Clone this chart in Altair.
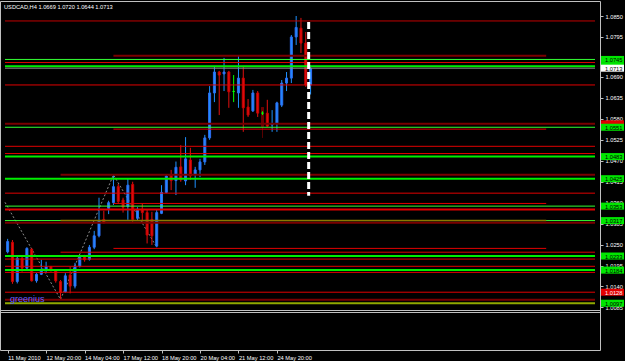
import altair as alt
import pandas as pd
import numpy as np

# ---------------- data ----------------
symbol = "USDCAD,H4"

# bar index (H4 bars, left to right)
bar_idx = list(range(64))
opens = [1.0231, 1.0256, 1.0153, 1.0214, 1.0188, 1.0238, 1.0155, 1.0172, 1.0183, 1.0192,
         1.0181, 1.0153, 1.0126, 1.0170, 1.0141, 1.0194, 1.0218, 1.0211, 1.0243, 1.0273,
         1.0316, 1.0345, 1.0360, 1.0402, 1.0367, 1.0350, 1.0408, 1.0319, 1.0343, 1.0334,
         1.0316, 1.0246, 1.0332, 1.0387, 1.0433, 1.0418, 1.0454, 1.0417, 1.0472, 1.0435,
         1.0446, 1.0467, 1.0530, 1.0648, 1.0703, 1.0698, 1.0703, 1.0652, 1.0648, 1.0687,
         1.0611, 1.0601, 1.0648, 1.0595, 1.0595, 1.0564, 1.0569, 1.0616, 1.0674, 1.0687,
         1.0795, 1.0818, 1.0779, 1.0669]
highs = [1.0265, 1.0262, 1.0218, 1.0218, 1.0243, 1.0240, 1.0175, 1.0210, 1.0205, 1.0194,
         1.0185, 1.0157, 1.0175, 1.0192, 1.0202, 1.0218, 1.0223, 1.0249, 1.0286, 1.0373,
         1.0339, 1.0365, 1.0433, 1.0409, 1.0373, 1.0424, 1.0415, 1.0348, 1.0358, 1.0341,
         1.0336, 1.0341, 1.0406, 1.0433, 1.0446, 1.0468, 1.0511, 1.0532, 1.0504, 1.0454,
         1.0475, 1.0538, 1.0666, 1.0716, 1.0706, 1.0740, 1.0706, 1.0695, 1.0745, 1.0719,
         1.0632, 1.0656, 1.0653, 1.0600, 1.0630, 1.0603, 1.0625, 1.0682, 1.0703, 1.0800,
         1.0850, 1.0845, 1.0808, 1.0720]
lows = [1.0227, 1.0147, 1.0148, 1.0179, 1.0183, 1.0153, 1.0150, 1.0170, 1.0175, 1.0179,
        1.0150, 1.0106, 1.0124, 1.0122, 1.0135, 1.0190, 1.0205, 1.0208, 1.0238, 1.0269,
        1.0306, 1.0330, 1.0354, 1.0357, 1.0334, 1.0315, 1.0310, 1.0312, 1.0310, 1.0253,
        1.0249, 1.0243, 1.0330, 1.0385, 1.0393, 1.0380, 1.0415, 1.0406, 1.0420, 1.0399,
        1.0427, 1.0459, 1.0525, 1.0624, 1.0590, 1.0653, 1.0609, 1.0624, 1.0609, 1.0546,
        1.0585, 1.0598, 1.0585, 1.0590, 1.0559, 1.0546, 1.0546, 1.0611, 1.0653, 1.0674,
        1.0774, 1.0753, 1.0664, 1.0644]
closes = [1.0258, 1.0153, 1.0214, 1.0188, 1.0240, 1.0155, 1.0172, 1.0183, 1.0192, 1.0183,
          1.0155, 1.0124, 1.0168, 1.0141, 1.0194, 1.0216, 1.0210, 1.0243, 1.0273, 1.0313,
          1.0307, 1.0360, 1.0402, 1.0363, 1.0348, 1.0406, 1.0316, 1.0343, 1.0334, 1.0275,
          1.0273, 1.0334, 1.0387, 1.0430, 1.0418, 1.0453, 1.0420, 1.0475, 1.0430, 1.0446,
          1.0467, 1.0530, 1.0648, 1.0703, 1.0695, 1.0703, 1.0651, 1.0652, 1.0687, 1.0609,
          1.0590, 1.0648, 1.0595, 1.0595, 1.0561, 1.0567, 1.0622, 1.0674, 1.0687, 1.0795,
          1.0820, 1.0779, 1.0669, 1.0713]

# dim "shadow" candle
ghost_idx = [53]
ghost_open = [1.0611]
ghost_high = [1.0611]
ghost_low = [1.0530]
ghost_close = [1.0559]

# time-axis labels (bar index -> text)
time_tick_idx = [0, 8, 16, 24, 32, 40, 48, 56]
time_tick_lab = ["11 May 2010", "12 May 20:00", "14 May 04:00", "17 May 12:00",
                 "18 May 20:00", "20 May 04:00", "21 May 12:00", "24 May 20:00"]

# price-axis labels
price_ticks = [1.0850, 1.0795, 1.0690, 1.0635, 1.0580, 1.0525, 1.0470, 1.0415,
               1.0360, 1.0305, 1.0250, 1.0195, 1.0140, 1.0085]

# horizontal lines: price, colour, width, first bar, last bar (None = to edge)
hl_price = [1.0837, 1.0746, 1.0736, 1.0728, 1.0718, 1.0669, 1.0567, 1.0558, 1.0553,
            1.0508, 1.0489, 1.0481, 1.0433, 1.0423, 1.0385, 1.0358, 1.0351, 1.0342,
            1.0313, 1.0313, 1.0307, 1.0240, 1.0230, 1.0220, 1.0212, 1.0193, 1.0183,
            1.0177, 1.0125, 1.0105, 1.0096]
hl_color = ["#c00000", "#7a0000", "#33ff33", "#e00000", "#00ee00", "#e00000", "#7a0000",
            "#33ff33", "#e00000", "#e00000", "#e00000", "#00ee00", "#7a0000", "#00ee00",
            "#e00000", "#e00000", "#33ff33", "#e00000", "#33ff33", "#8a7a00", "#7a0000",
            "#e00000", "#e00000", "#00ee00", "#e00000", "#e00000", "#00ee00", "#e00000",
            "#e00000", "#7a0000", "#8fa800"]
hl_width = [1, 2, 1, 1, 2, 1, 2, 1, 1, 1, 1, 2, 2, 2, 1, 1, 1, 2, 1, 1.5, 2, 1, 1, 2,
            1, 1, 2, 1, 1, 2, 2]
hl_from = [None, 22, None, None, None, None, None, None, 22, None, None, None, 11, None,
           None, 22, None, None, None, 11, None, 22, 11, None, None, None, None, None,
           None, None, None]
hl_to = [None, 112, None, None, None, None, None, None, 112, None, None, None, None, None,
         None, 112, None, None, None, 112, None, 112, None, None, None, None, None, None,
         None, None, None]

# price labels on the right scale: price, background, text
box_price = [1.0567, 1.0558, 1.0481, 1.0423, 1.0351, 1.0313, 1.0220, 1.0183, 1.0125,
             1.0096, 1.0736, 1.0718, 1.0713]
box_bg = ["#e00000", "#00e600", "#00e600", "#00e600", "#00e600", "#00e600", "#00e600",
          "#00e600", "#e00000", "#00e600", "#00e600", "#00e600", "#ffffff"]
box_text = ["", "1.0551", "1.0483", "1.0425", "1.0353", "1.0317", "1.0233",
            "1.0184", "1.0128", "1.0097", "1.0745", "", "1.0713"]
box_fg = ["#ffffff", "#000000", "#000000", "#000000", "#000000", "#000000", "#000000",
          "#000000", "#ffffff", "#000000", "#000000", "#000000", "#000000"]

# zigzag swing points (bar index, price)
zz_idx = [-0.55, 11, 22, 31]
zz_price = [1.0361, 1.0106, 1.0433, 1.0243]

# dashed vertical marker
vline_idx = [62.6]
vline_top = [1.0834]
vline_bottom = [1.0378]

# text object
txt_idx = [0.5]
txt_price = [1.0107]
txt_str = ["greenius"]

# ---------------- scales / axes ----------------
X_DOM = [-0.552, 122.15]
Y_DOM = [0.99733, 1.08894]
xs = alt.Scale(domain=X_DOM, nice=False, zero=False)
ys = alt.Scale(domain=Y_DOM, nice=False, zero=False)
FONT = "Liberation Sans"
GREY = "#c0c0c0"
FS = 5.7

label_expr = " : ".join(
    [f"datum.value == {v} ? '{s}'" for v, s in zip(time_tick_idx, time_tick_lab)]) + " : ''"

x_axis = alt.Axis(values=time_tick_idx, labelExpr=label_expr, orient="bottom",
                  title=None, grid=False, domain=False, tickColor=GREY,
                  tickSize=3, labelAlign="left", labelBaseline="top",
                  labelPadding=1, labelColor="#ffffff", labelFont=FONT,
                  labelFontSize=FS, labelFlush=False, labelOverlap=False)
y_axis = alt.Axis(values=price_ticks, format=".4f", orient="right", title=None,
                  grid=False, domain=False, tickColor=GREY, tickSize=3,
                  labelPadding=2, labelColor="#ffffff", labelFont=FONT,
                  labelFontSize=FS, labelFlush=False, labelOverlap=False)


def X(f):
    return alt.X(f, scale=xs, axis=x_axis)


def Y(f):
    return alt.Y(f, scale=ys, axis=y_axis)


cd = pd.DataFrame(dict(i=bar_idx, o=opens, h=highs, l=lows, c=closes))
cd["col"] = np.where(cd.c > cd.o, "#1e90ff", np.where(cd.c < cd.o, "#e01010", "#00ff00"))
cd["edge"] = np.where(cd.c > cd.o, "#2f6cf0", np.where(cd.c < cd.o, "#c80000", "#00ff00"))

gd = pd.DataFrame(dict(i=ghost_idx, o=ghost_open, h=ghost_high, l=ghost_low, c=ghost_close))

hl = pd.DataFrame(dict(p=hl_price, col=hl_color, w=hl_width,
                       x1=[X_DOM[0] if v is None else v for v in hl_from],
                       x2=[X_DOM[1] if v is None else v for v in hl_to]))

cur = pd.DataFrame(dict(p=[closes[-1]], x1=[X_DOM[0]], x2=[X_DOM[1]]))

bx = pd.DataFrame(dict(p=box_price, bg=box_bg, t=box_text, fg=box_fg))
zz = pd.DataFrame(dict(i=zz_idx, p=zz_price))
vl = pd.DataFrame(dict(i=vline_idx, a=vline_top, b=vline_bottom))
tx = pd.DataFrame(dict(i=txt_idx, p=txt_price, s=txt_str))
head = pd.DataFrame(dict(s=[f"{symbol}  {opens[-1]:.4f} {highs[-1]:.4f} {lows[-1]:.4f} {closes[-1]:.4f}"]))

# ---------------- layers ----------------
ghost_wick = alt.Chart(gd).mark_rule(color="#5a0000", strokeWidth=1).encode(
    x=X("i:Q"), y=Y("l:Q"), y2="h:Q")
ghost_body = alt.Chart(gd).mark_bar(size=3, color="#6a0000").encode(
    x=X("i:Q"), y=Y("o:Q"), y2="c:Q")

zig = alt.Chart(zz).mark_line(color="#8c8c8c", strokeWidth=1, strokeDash=[2, 2], clip=True).encode(
    x=X("i:Q"), y=Y("p:Q"))

wick = alt.Chart(cd).mark_rule(strokeWidth=1).encode(
    x=X("i:Q"), y=Y("l:Q"), y2="h:Q",
    color=alt.Color("col:N", scale=None))
body = alt.Chart(cd).mark_bar(size=2, strokeWidth=1).encode(
    x=X("i:Q"), y=Y("o:Q"), y2="c:Q",
    fill=alt.Fill("col:N", scale=None), stroke=alt.Stroke("edge:N", scale=None))

hlines = alt.Chart(hl).mark_rule().encode(
    x=X("x1:Q"), x2="x2:Q", y=Y("p:Q"),
    color=alt.Color("col:N", scale=None), strokeWidth=alt.StrokeWidth("w:Q", scale=None))

curline = alt.Chart(cur).mark_rule(color="#8a8a8a", strokeWidth=1).encode(
    x=X("x1:Q"), x2="x2:Q", y=Y("p:Q"))

vdash = alt.Chart(vl).mark_rule(color="#ffffff", strokeWidth=3, strokeDash=[7, 3]).encode(
    x=X("i:Q"), y=Y("a:Q"), y2="b:Q")

boxes = alt.Chart(bx).mark_rect(yOffset=-3.5, y2Offset=3.5).encode(
    x=alt.value(601), x2=alt.value(624), y=Y("p:Q"), y2="p:Q",
    color=alt.Color("bg:N", scale=None))
boxtext = alt.Chart(bx).mark_text(align="left", baseline="middle", font=FONT,
                                  fontSize=FS, dy=0.5).encode(
    x=alt.value(605), y=Y("p:Q"), text="t:N",
    color=alt.Color("fg:N", scale=None))

name = alt.Chart(tx).mark_text(align="left", baseline="middle", font=FONT, fontSize=9,
                               color="#6060ff").encode(
    x=X("i:Q"), y=Y("p:Q"), text="s:N")

header = alt.Chart(head).mark_text(align="left", baseline="middle", font=FONT,
                                   fontSize=FS, color="#ffffff").encode(
    x=alt.value(4), y=alt.value(6), text="s:N")

sep = pd.DataFrame(dict(k=[0]))
sep1 = alt.Chart(sep).mark_rule(color=GREY, strokeWidth=1).encode(
    x=alt.value(0), x2=alt.value(600), y=alt.value(309.5))
sep2 = alt.Chart(sep).mark_rule(color=GREY, strokeWidth=1).encode(
    x=alt.value(0), x2=alt.value(600), y=alt.value(311.5))

chart = alt.layer(
    ghost_wick, ghost_body, zig, wick, body, hlines, curline, vdash,
    boxes, boxtext, name, header, sep1, sep2
).properties(
    width=600, height=349, background="#000000",
    padding={"left": 0, "top": 1, "right": 25, "bottom": 11},
    autosize=alt.AutoSizeParams(type="none")
).configure_view(stroke=GREY, strokeWidth=1
).configure_axis(labelOverlap=False)

chart.save("out.html", embed_options={"renderer": "svg", "actions": False})
